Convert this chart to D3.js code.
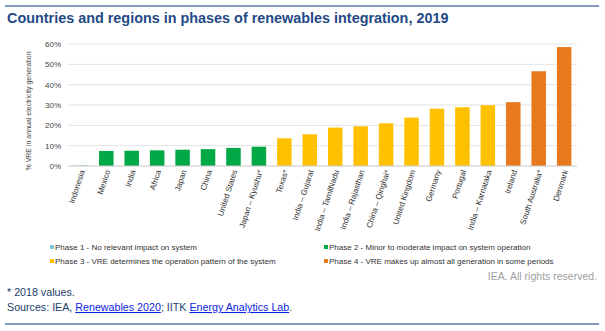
<!DOCTYPE html>
<html>
<head>
<meta charset="utf-8">
<script src="https://cdn.jsdelivr.net/npm/d3@7"></script>
<style>
	body { margin: 0; background: #fff; font-family: "Liberation Sans", Arial, sans-serif; }
	#chart-area { width: 605px; height: 331px; }
	.link { fill: #0b24e0; text-decoration: underline; }
</style>
</head>
<body>
<div id="chart-area"></div>
<script>

// Data
let regions = ["Indonesia", "Mexico", "India", "Africa", "Japan", "China", "United States", "Japan \u2013 Kyushu*",
	"Texas*", "India \u2013 Gujarat", "India \u2013 TamilNadu", "India \u2013 Rajasthan", "China \u2013 Qinghai*",
	"United Kingdom", "Germany", "Portugal", "India \u2013 Karnataka", "Ireland", "South Australia*", "Denmark"];
let vreShare = [0.003, 0.074, 0.075, 0.077, 0.080, 0.083, 0.089, 0.095,
	0.136, 0.156, 0.189, 0.195, 0.210, 0.238, 0.282, 0.289, 0.299, 0.314, 0.466, 0.585];
let phase = [1, 2, 2, 2, 2, 2, 2, 2, 3, 3, 3, 3, 3, 3, 3, 3, 3, 4, 4, 4];
let yTicks = [0, 0.1, 0.2, 0.3, 0.4, 0.5, 0.6];
let phaseLabels = ["Phase 1 - No relevant impact on system", "Phase 2 - Minor to moderate impact on system operation",
	"Phase 3 - VRE determines the operation pattern of the system", "Phase 4 - VRE makes up almost all generation in some periods"];
let phaseColors = ["#7dc9e0", "#00a846", "#ffc000", "#e8791d"];

class PhaseBarVis {

	constructor(_parentElement) {
		this.parentElement = _parentElement;
		this.initVis();
	}

	initVis() {
		let vis = this;

		vis.margin = { top: 44, left: 68, right: 28, bottom: 165 };
		vis.width = 605 - vis.margin.left - vis.margin.right;
		vis.height = 166 - vis.margin.top;

		vis.root = d3.select("#" + vis.parentElement).append("svg")
			.attr("width", 605)
			.attr("height", 331);

		// top and bottom rules
		vis.root.append("line").attr("x1", 5).attr("x2", 599).attr("y1", 6).attr("y2", 6)
			.attr("stroke", "#5a7ca8").attr("stroke-width", 1.5);
		vis.root.append("line").attr("x1", 5).attr("x2", 599).attr("y1", 324).attr("y2", 324)
			.attr("stroke", "#5a7ca8").attr("stroke-width", 1.5);

		// title
		vis.root.append("text")
			.attr("x", 7).attr("y", 23)
			.style("font-size", "14.4px").style("font-weight", "bold").style("fill", "#1f4a86")
			.text("Countries and regions in phases of renewables integration, 2019");

		vis.svg = vis.root.append("g")
			.attr("transform", "translate(" + vis.margin.left + "," + vis.margin.top + ")");

		vis.x = d3.scaleBand().domain(regions).range([0, vis.width]).paddingInner(0.43).paddingOuter(0.22);
		vis.y = d3.scaleLinear().domain([0, 0.6]).range([vis.height, 0]);

		// gridlines
		vis.svg.selectAll(".grid")
			.data(yTicks.slice(1))
			.enter().append("line")
			.attr("class", "grid")
			.attr("x1", 0).attr("x2", vis.width)
			.attr("y1", d => vis.y(d)).attr("y2", d => vis.y(d))
			.attr("stroke", "#e3e3e3").attr("stroke-width", 1);

		// y axis
		let yAxis = d3.axisLeft(vis.y).tickValues(yTicks).tickFormat(d3.format(".0%")).tickSize(0).tickPadding(7);
		let yG = vis.svg.append("g").call(yAxis);
		yG.select(".domain").remove();
		yG.selectAll("text").style("font-size", "8px").style("fill", "#444").style("font-family", "Liberation Sans, Arial, sans-serif");

		// bars
		vis.svg.selectAll(".bar")
			.data(regions)
			.enter().append("rect")
			.attr("class", "bar")
			.attr("x", d => vis.x(d))
			.attr("width", vis.x.bandwidth())
			.attr("y", (d, i) => vis.y(vreShare[i]))
			.attr("height", (d, i) => vis.height - vis.y(vreShare[i]))
			.attr("fill", (d, i) => phaseColors[phase[i] - 1]);

		// baseline
		vis.svg.append("line")
			.attr("x1", 0).attr("x2", vis.width)
			.attr("y1", vis.height).attr("y2", vis.height)
			.attr("stroke", "#c8c8c8");

		// x axis, rotated labels
		let xAxis = d3.axisBottom(vis.x).tickSize(0).tickPadding(0);
		let xG = vis.svg.append("g").attr("transform", "translate(0," + vis.height + ")").call(xAxis);
		xG.select(".domain").remove();
		xG.selectAll("text")
			.attr("y", 0).attr("dy", 0)
			.attr("transform", "translate(4,5) rotate(-72)")
			.style("text-anchor", "end")
			.style("font-size", "8px").style("fill", "#333")
			.style("font-family", "Liberation Sans, Arial, sans-serif");

		// y axis title
		vis.root.append("text")
			.attr("transform", "translate(31,111) rotate(-90)")
			.style("text-anchor", "middle")
			.style("font-size", "7px").style("fill", "#444")
			.text("% VRE in annual electricity generation");

		// legend
		let legendPos = [[50, 247], [324, 247], [50, 261], [324, 261]];
		let legend = vis.root.selectAll(".legend")
			.data(phaseLabels)
			.enter().append("g")
			.attr("class", "legend")
			.attr("transform", (d, i) => "translate(" + legendPos[i][0] + "," + legendPos[i][1] + ")");
		legend.append("rect").attr("x", 0).attr("y", -2).attr("width", 4).attr("height", 4)
			.attr("fill", (d, i) => phaseColors[i]);
		legend.append("text").attr("x", 5).attr("y", 2.8)
			.style("font-size", "8px").style("fill", "#333")
			.text(d => d);

		// credits and notes
		vis.root.append("text")
			.attr("x", 597).attr("y", 280)
			.style("text-anchor", "end").style("font-size", "10.5px").style("fill", "#a0a0a0")
			.text("IEA. All rights reserved.");

		vis.root.append("text")
			.attr("x", 7).attr("y", 296)
			.style("font-size", "10.7px").style("fill", "#243e6b")
			.text("* 2018 values.");

		let src = vis.root.append("text")
			.attr("x", 7).attr("y", 311)
			.style("font-size", "10.7px").style("fill", "#243e6b");
		src.append("tspan").text("Sources: IEA, ");
		src.append("tspan").attr("class", "link").text("Renewables 2020");
		src.append("tspan").text("; IITK ");
		src.append("tspan").attr("class", "link").text("Energy Analytics Lab");
		src.append("tspan").text(".");
	}
}

new PhaseBarVis("chart-area");
</script>
</body>
</html>
